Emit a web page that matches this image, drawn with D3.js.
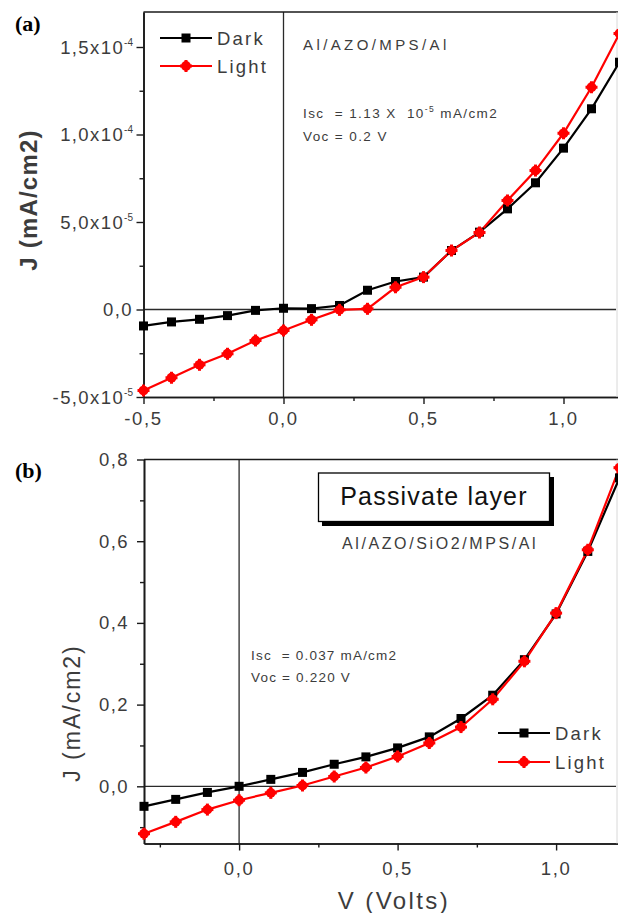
<!DOCTYPE html>
<html>
<head>
<meta charset="utf-8">
<script src="https://cdn.jsdelivr.net/npm/d3@7"></script>
<style>
  html, body { margin: 0; padding: 0; background: #fff; }
  svg { display: block; }
  text { font-family: "Liberation Sans", Arial, sans-serif; white-space: pre; }
  text.tag { font-family: "Liberation Serif", "Times New Roman", serif; font-weight: bold; }
</style>
</head>
<body>
<svg id="chart" width="618" height="913"></svg>
<script>
// ---- Panel (a): Al/AZO/MPS/Al ----
const voltsA = [-0.5, -0.4, -0.3, -0.2, -0.1, 0.0, 0.1, 0.2, 0.3, 0.4, 0.5, 0.6, 0.7, 0.8, 0.9, 1.0, 1.1, 1.2];
const darkA = [-0.94e-5, -0.71e-5, -0.56e-5, -0.35e-5, -0.05e-5, 0.07e-5, 0.05e-5, 0.23e-5, 1.1e-5, 1.6e-5, 1.85e-5, 3.37e-5, 4.42e-5, 5.75e-5, 7.24e-5, 9.22e-5, 11.47e-5, 14.13e-5];
const lightA = [-4.63e-5, -3.9e-5, -3.16e-5, -2.53e-5, -1.77e-5, -1.2e-5, -0.59e-5, -0.02e-5, 0.04e-5, 1.27e-5, 1.85e-5, 3.37e-5, 4.4e-5, 6.23e-5, 7.94e-5, 10.07e-5, 12.7e-5, 15.77e-5];
const xTicksA = [-0.5, 0.0, 0.5, 1.0];
const xTickLabelsA = ["-0,5", "0,0", "0,5", "1,0"];
const xMinorA = [-0.25, 0.25, 0.75];
const yTicksA = [-5e-5, 0, 5e-5, 1e-4, 1.5e-4];
const yTickMantA = ["-5,0x10", "0,0", "5,0x10", "1,0x10", "1,5x10"];
const yTickExpA = ["-5", "", "-5", "-4", "-4"];
const yMinorA = [-2.5e-5, 2.5e-5, 7.5e-5, 1.25e-4];

// ---- Panel (b): Al/AZO/SiO2/MPS/Al ----
const voltsB = [-0.3, -0.2, -0.1, 0.0, 0.1, 0.2, 0.3, 0.4, 0.5, 0.6, 0.7, 0.8, 0.9, 1.0, 1.1, 1.2];
const darkB = [-0.049, -0.032, -0.015, 0.0, 0.017, 0.034, 0.054, 0.072, 0.094, 0.121, 0.166, 0.223, 0.31, 0.422, 0.575, 0.755];
const lightB = [-0.116, -0.087, -0.057, -0.034, -0.016, 0.002, 0.024, 0.046, 0.073, 0.106, 0.145, 0.213, 0.306, 0.424, 0.579, 0.78];
const xTicksB = [0.0, 0.5, 1.0];
const xTickLabelsB = ["0,0", "0,5", "1,0"];
const xMinorB = [-0.25, 0.25, 0.75];
const yTicksB = [0.0, 0.2, 0.4, 0.6, 0.8];
const yTickLabelsB = ["0,0", "0,2", "0,4", "0,6", "0,8"];
const yMinorB = [-0.1, 0.1, 0.3, 0.5, 0.7];

const seriesNames = ["Dark", "Light"];
const seriesColors = ["#000000", "#ff0000"];

const svg = d3.select("#chart");
const axisColor = "#1a1a1a";
const labelColor = "#3c3c3c";

// round, bumpy star marker for the "Light" series
function lightMarker(g, cx, cy, color) {
  const m = g.append("g").attr("transform", `translate(${cx},${cy})`);
  m.append("circle").attr("r", 4.9).attr("fill", color);
  m.append("rect").attr("x", -1.5).attr("y", -6).attr("width", 3).attr("height", 12).attr("fill", color);
  m.append("rect").attr("x", -6).attr("y", -1.5).attr("width", 12).attr("height", 3).attr("fill", color);
}
function darkMarker(g, cx, cy, color) {
  g.append("rect").attr("x", cx - 4.5).attr("y", cy - 4.5).attr("width", 9).attr("height", 9).attr("fill", color);
}

function drawPanel(cfg) {
  const g = svg.append("g");
  const x = d3.scaleLinear().domain(cfg.xDomain).range(cfg.xRange);
  const y = d3.scaleLinear().domain(cfg.yDomain).range(cfg.yRange);
  const [x0, x1] = cfg.xRange;
  const [yb, yt] = cfg.yRange;

  // zero reference lines
  g.append("line").attr("x1", x0).attr("x2", 616).attr("y1", y(0)).attr("y2", y(0))
    .attr("stroke", "#2a2a2a").attr("stroke-width", 1.3);
  g.append("line").attr("x1", x(0)).attr("x2", x(0)).attr("y1", yt).attr("y2", yb)
    .attr("stroke", "#2a2a2a").attr("stroke-width", 1.3);

  // axes (major ticks via d3 axis, minor ticks as a second axis)
  const xAxis = d3.axisBottom(x).tickValues(cfg.xTicks).tickSize(7).tickSizeOuter(0).tickFormat("");
  const xAxisMinor = d3.axisBottom(x).tickValues(cfg.xMinor).tickSize(4).tickSizeOuter(0).tickFormat("");
  const yAxis = d3.axisLeft(y).tickValues(cfg.yTicks).tickSize(7).tickSizeOuter(0).tickFormat("");
  const yAxisMinor = d3.axisLeft(y).tickValues(cfg.yMinor).tickSize(4).tickSizeOuter(0).tickFormat("");

  [[xAxis, `translate(0,${yb})`], [xAxisMinor, `translate(0,${yb})`],
   [yAxis, `translate(${x0},0)`], [yAxisMinor, `translate(${x0},0)`]].forEach(([ax, tr]) => {
    const a = g.append("g").attr("transform", tr).call(ax);
    a.selectAll("path.domain").attr("stroke", axisColor).attr("stroke-width", 1.6);
    a.selectAll(".tick line").attr("stroke", axisColor).attr("stroke-width", 1.4);
  });
  // top border and faint right edge
  g.append("line").attr("x1", x0).attr("x2", 618).attr("y1", yt).attr("y2", yt)
    .attr("stroke", axisColor).attr("stroke-width", 1.6);
  g.append("line").attr("x1", 617).attr("x2", 617).attr("y1", yt).attr("y2", yb)
    .attr("stroke", "#d8d8d8").attr("stroke-width", 1);

  // tick labels
  cfg.xTicks.forEach((v, i) => {
    g.append("text").attr("x", x(v)).attr("y", cfg.xLabelY).attr("text-anchor", "middle")
      .attr("font-size", 18.5).attr("letter-spacing", 1.6).attr("fill", labelColor)
      .text(cfg.xTickLabels[i]);
  });
  cfg.yTicks.forEach((v, i) => {
    const t = g.append("text").attr("x", cfg.yLabelX).attr("y", y(v) + 6.5).attr("text-anchor", "end")
      .attr("font-size", 18.5).attr("letter-spacing", 1.4).attr("fill", labelColor);
    t.append("tspan").text(cfg.yMant[i]);
    if (cfg.yExp && cfg.yExp[i]) {
      t.append("tspan").attr("font-size", 10).attr("dy", -8).attr("letter-spacing", 0).text(cfg.yExp[i]);
    }
  });

  // y title
  g.append("text").attr("transform", `translate(${cfg.yTitleX},${cfg.yTitleY}) rotate(-90)`)
    .attr("text-anchor", "middle").attr("font-size", cfg.yTitleSize).attr("font-weight", cfg.yTitleWeight)
    .attr("letter-spacing", cfg.yTitleSpacing).attr("fill", labelColor).text("J (mA/cm2)");

  // panel tag
  g.append("text").attr("class", "tag").attr("x", 15).attr("y", cfg.tagY)
    .attr("font-size", 22).attr("fill", "#000").text(cfg.tag);

  // series
  const line = d3.line().x(d => x(d[0])).y(d => y(d[1]));
  const series = [cfg.dark, cfg.light];
  series.forEach((vals, si) => {
    const pts = cfg.volts.map((v, i) => [v, vals[i]]);
    g.append("path").datum(pts).attr("d", line).attr("fill", "none")
      .attr("stroke", seriesColors[si]).attr("stroke-width", 2.2);
  });
  series.forEach((vals, si) => {
    const mg = g.append("g");
    cfg.volts.forEach((v, i) => {
      if (si === 0) darkMarker(mg, x(v), y(vals[i]), seriesColors[si]);
      else lightMarker(mg, x(v), y(vals[i]), seriesColors[si]);
    });
  });

  // legend
  seriesNames.forEach((name, si) => {
    const ly = cfg.legendY[si];
    const lg = g.append("g");
    lg.append("line").attr("x1", cfg.legendX).attr("x2", cfg.legendX + 52).attr("y1", ly).attr("y2", ly)
      .attr("stroke", seriesColors[si]).attr("stroke-width", 2.2);
    if (si === 0) darkMarker(lg, cfg.legendX + 26, ly, seriesColors[si]);
    else lightMarker(lg, cfg.legendX + 26, ly, seriesColors[si]);
    lg.append("text").attr("x", cfg.legendX + 57).attr("y", ly + 6.5).attr("font-size", 18.5)
      .attr("letter-spacing", 2.2).attr("fill", labelColor).text(name);
  });
  return { g, x, y };
}

// Panel (a)
const pa = drawPanel({
  xDomain: [-0.5, 1.2], xRange: [143.5, 619.5],
  yDomain: [-5e-5, 1.7e-4], yRange: [397, 12],
  volts: voltsA, dark: darkA, light: lightA,
  xTicks: xTicksA, xTickLabels: xTickLabelsA, xMinor: xMinorA,
  yTicks: yTicksA, yMant: yTickMantA, yExp: yTickExpA, yMinor: yMinorA,
  xLabelY: 425, yLabelX: 133,
  yTitleX: 37, yTitleY: 200, yTitleSize: 24, yTitleWeight: "bold", yTitleSpacing: 1.2,
  tag: "(a)", tagY: 31,
  legendX: 160, legendY: [38, 66]
});
pa.g.append("text").attr("x", 303).attr("y", 50).attr("font-size", 15).attr("letter-spacing", 3.4)
  .attr("fill", labelColor).text("Al/AZO/MPS/Al");
const isc = pa.g.append("text").attr("x", 303).attr("y", 118).attr("font-size", 13.5)
  .attr("letter-spacing", 1.4).attr("fill", labelColor);
isc.append("tspan").text("Isc  = 1.13 X  10");
isc.append("tspan").attr("font-size", 8.5).attr("dy", -6).text("-5");
isc.append("tspan").attr("dy", 6).text(" mA/cm2");
pa.g.append("text").attr("x", 303).attr("y", 141).attr("font-size", 13.5).attr("letter-spacing", 1.4)
  .attr("fill", labelColor).text("Voc = 0.2 V");

// Panel (b)
const pb = drawPanel({
  xDomain: [-0.3, 1.2], xRange: [144, 619.5],
  yDomain: [-0.14, 0.8], yRange: [843.5, 459.5],
  volts: voltsB, dark: darkB, light: lightB,
  xTicks: xTicksB, xTickLabels: xTickLabelsB, xMinor: xMinorB,
  yTicks: yTicksB, yMant: yTickLabelsB, yExp: null, yMinor: yMinorB,
  xLabelY: 875, yLabelX: 129,
  yTitleX: 80, yTitleY: 713, yTitleSize: 23, yTitleWeight: "normal", yTitleSpacing: 2,
  tag: "(b)", tagY: 478,
  legendX: 498, legendY: [733, 762]
});
// "Passivate layer" framed label with drop shadow
pb.g.append("rect").attr("x", 322).attr("y", 477).attr("width", 232).attr("height", 49).attr("fill", "#000");
pb.g.append("rect").attr("x", 318.5).attr("y", 473).attr("width", 231).attr("height", 48.5)
  .attr("fill", "#fff").attr("stroke", "#000").attr("stroke-width", 1.3);
pb.g.append("text").attr("x", 434).attr("y", 505).attr("text-anchor", "middle").attr("font-size", 25)
  .attr("letter-spacing", 1.2).attr("fill", "#111").text("Passivate layer");
pb.g.append("text").attr("x", 342).attr("y", 549).attr("font-size", 16).attr("letter-spacing", 2.6)
  .attr("fill", labelColor).text("Al/AZO/SiO2/MPS/Al");
pb.g.append("text").attr("x", 251).attr("y", 660).attr("font-size", 13.5).attr("letter-spacing", 1.2)
  .attr("fill", labelColor).text("Isc  = 0.037 mA/cm2");
pb.g.append("text").attr("x", 251).attr("y", 682).attr("font-size", 13.5).attr("letter-spacing", 1.2)
  .attr("fill", labelColor).text("Voc = 0.220 V");
pb.g.append("text").attr("x", 394).attr("y", 909).attr("text-anchor", "middle").attr("font-size", 24)
  .attr("letter-spacing", 2.4).attr("fill", labelColor).text("V (Volts)");
</script>
</body>
</html>
